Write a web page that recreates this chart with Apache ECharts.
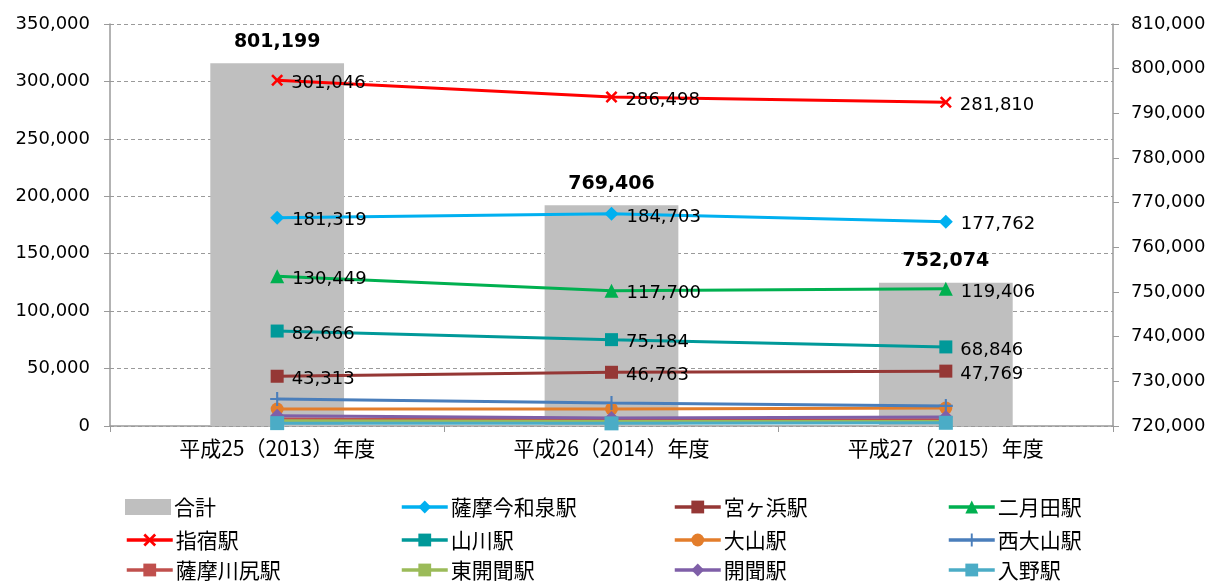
<!DOCTYPE html>
<html>
<head>
<meta charset="utf-8">
<script src="https://cdn.jsdelivr.net/npm/echarts@6/dist/echarts.min.js"></script>
<style>
  html, body { margin: 0; padding: 0; background: #fff; }
  #chart { width: 1212px; height: 581px; }
</style>
</head>
<body>
<div id="chart"></div>
<script>
// 年度
var years = ['平成25（2013）年度', '平成26（2014）年度', '平成27（2015）年度']

// 乗車人員（駅別）
var total = [801199, 769406, 752074]
var imaizumi = [181319, 184703, 177762]
var miyagahama = [43313, 46763, 47769]
var nigatsuden = [130449, 117700, 119406]
var ibusuki = [301046, 286498, 281810]
var yamakawa = [82666, 75184, 68846]
var ooyama = [14800, 14900, 15700]
var nishiooyama = [23500, 20000, 17500]
var kawashiri = [6000, 5500, 5500]
var higashikaimon = [4500, 4000, 4000]
var kaimon = [9000, 7000, 7800]
var irino = [2500, 2300, 2800]

var numFont = 'DejaVu Sans'
var jpFont = 'Noto Sans CJK JP'

var fmt = function (v) {
  return String(v).replace(/\B(?=(\d{3})+(?!\d))/g, ',')
}

var X_PATH = 'path://M0,3 L3,0 L10,7 L17,0 L20,3 L13,10 L20,17 L17,20 L10,13 L3,20 L0,17 L7,10 Z'
var PLUS_PATH = 'path://M8.5,0 H11.5 V8.5 H20 V11.5 H11.5 V20 H8.5 V11.5 H0 V8.5 H8.5 Z'

function lineSeries (name, data, color, symbol, size, withLabel) {
  var s = {
    name: name,
    type: 'line',
    data: data,
    yAxisIndex: 0,
    symbol: symbol,
    symbolSize: size,
    showAllSymbol: true,
    lineStyle: { color: color, width: 3 },
    itemStyle: { color: color },
    z: 3,
    label: { show: false }
  }
  if (withLabel) {
    s.label = {
      show: true,
      position: 'right',
      distance: 8,
      offset: [0, 3],
      color: '#000',
      fontFamily: numFont,
      fontSize: 18,
      formatter: function (p) { return fmt(p.value) }
    }
  }
  return s
}

// 凡例：4列×3行
var legendNames = [
  ['合計', '薩摩今和泉駅', '宮ヶ浜駅', '二月田駅'],
  ['指宿駅', '山川駅', '大山駅', '西大山駅'],
  ['薩摩川尻駅', '東開聞駅', '開聞駅', '入野駅']
]
var legendCols = [125, 400, 673, 947]
var legendRows = [507, 540, 570]

var legends = []
legendNames.forEach(function (row, r) {
  row.forEach(function (name, c) {
    var item = name === '合計'
      ? { name: name, icon: 'rect' }
      : { name: name, lineStyle: { width: 3.5 } }
    legends.push({
      data: [item],
      left: legendCols[c],
      top: legendRows[r] - 12,
      padding: 0,
      itemWidth: 46,
      itemHeight: 16,
      itemGap: 0,
      selectedMode: false,
      textStyle: {
        fontFamily: jpFont,
        fontSize: 21,
        lineHeight: 24,
        color: '#000',
        padding: [0, 0, 0, -2]
      }
    })
  })
})

var chart = echarts.init(document.getElementById('chart'))
chart.setOption({
  animation: false,
  backgroundColor: '#fff',
  grid: { left: 110, right: 99, top: 24, bottom: 155 },
  legend: legends,
  xAxis: {
    type: 'category',
    data: years,
    boundaryGap: true,
    axisLine: { lineStyle: { color: '#9a9a9a', width: 1.5 } },
    axisTick: { show: true, length: 6, lineStyle: { color: '#9a9a9a' } },
    axisLabel: { fontFamily: jpFont, fontSize: 21, color: '#000', margin: 12 }
  },
  yAxis: [
    {
      type: 'value',
      min: 0,
      max: 350000,
      interval: 50000,
      axisLine: { show: true, lineStyle: { color: '#9a9a9a', width: 1.5 } },
      axisTick: { show: true, length: 6, lineStyle: { color: '#9a9a9a' } },
      splitLine: { show: true, lineStyle: { color: '#9a9a9a', type: [4, 3] } },
      axisLabel: {
        fontFamily: numFont, fontSize: 18, color: '#000', margin: 20,
        formatter: fmt
      }
    },
    {
      type: 'value',
      min: 720000,
      max: 810000,
      interval: 10000,
      position: 'right',
      axisLine: { show: true, lineStyle: { color: '#9a9a9a', width: 1.5 } },
      axisTick: { show: true, length: 6, lineStyle: { color: '#9a9a9a' } },
      splitLine: { show: false },
      axisLabel: {
        fontFamily: numFont, fontSize: 18, color: '#000', margin: 18,
        formatter: fmt
      }
    }
  ],
  series: [
    {
      name: '合計',
      type: 'bar',
      yAxisIndex: 1,
      data: total,
      barWidth: '40%',
      itemStyle: { color: '#bfbfbf' },
      z: 1,
      label: {
        show: true,
        position: 'top',
        distance: 12,
        color: '#000',
        fontFamily: numFont,
        fontWeight: 'bold',
        fontSize: 19,
        formatter: function (p) { return fmt(p.value) }
      }
    },
    lineSeries('薩摩今和泉駅', imaizumi, '#00b0f0', 'diamond', 14, true),
    lineSeries('宮ヶ浜駅', miyagahama, '#953735', 'rect', 13, true),
    lineSeries('二月田駅', nigatsuden, '#00b050', 'triangle', 14, true),
    lineSeries('指宿駅', ibusuki, '#ff0000', X_PATH, 12, true),
    lineSeries('山川駅', yamakawa, '#009999', 'rect', 13, true),
    lineSeries('大山駅', ooyama, '#e37d2b', 'circle', 13, false),
    lineSeries('西大山駅', nishiooyama, '#4a7ebb', PLUS_PATH, 14, false),
    lineSeries('薩摩川尻駅', kawashiri, '#c0504d', 'rect', [9, 5], false),
    lineSeries('東開聞駅', higashikaimon, '#9bbb59', 'rect', [9, 5], false),
    lineSeries('開聞駅', kaimon, '#7f5fa8', 'diamond', 14, false),
    lineSeries('入野駅', irino, '#4bacc6', 'rect', 14, false)
  ]
})
</script>
</body>
</html>
